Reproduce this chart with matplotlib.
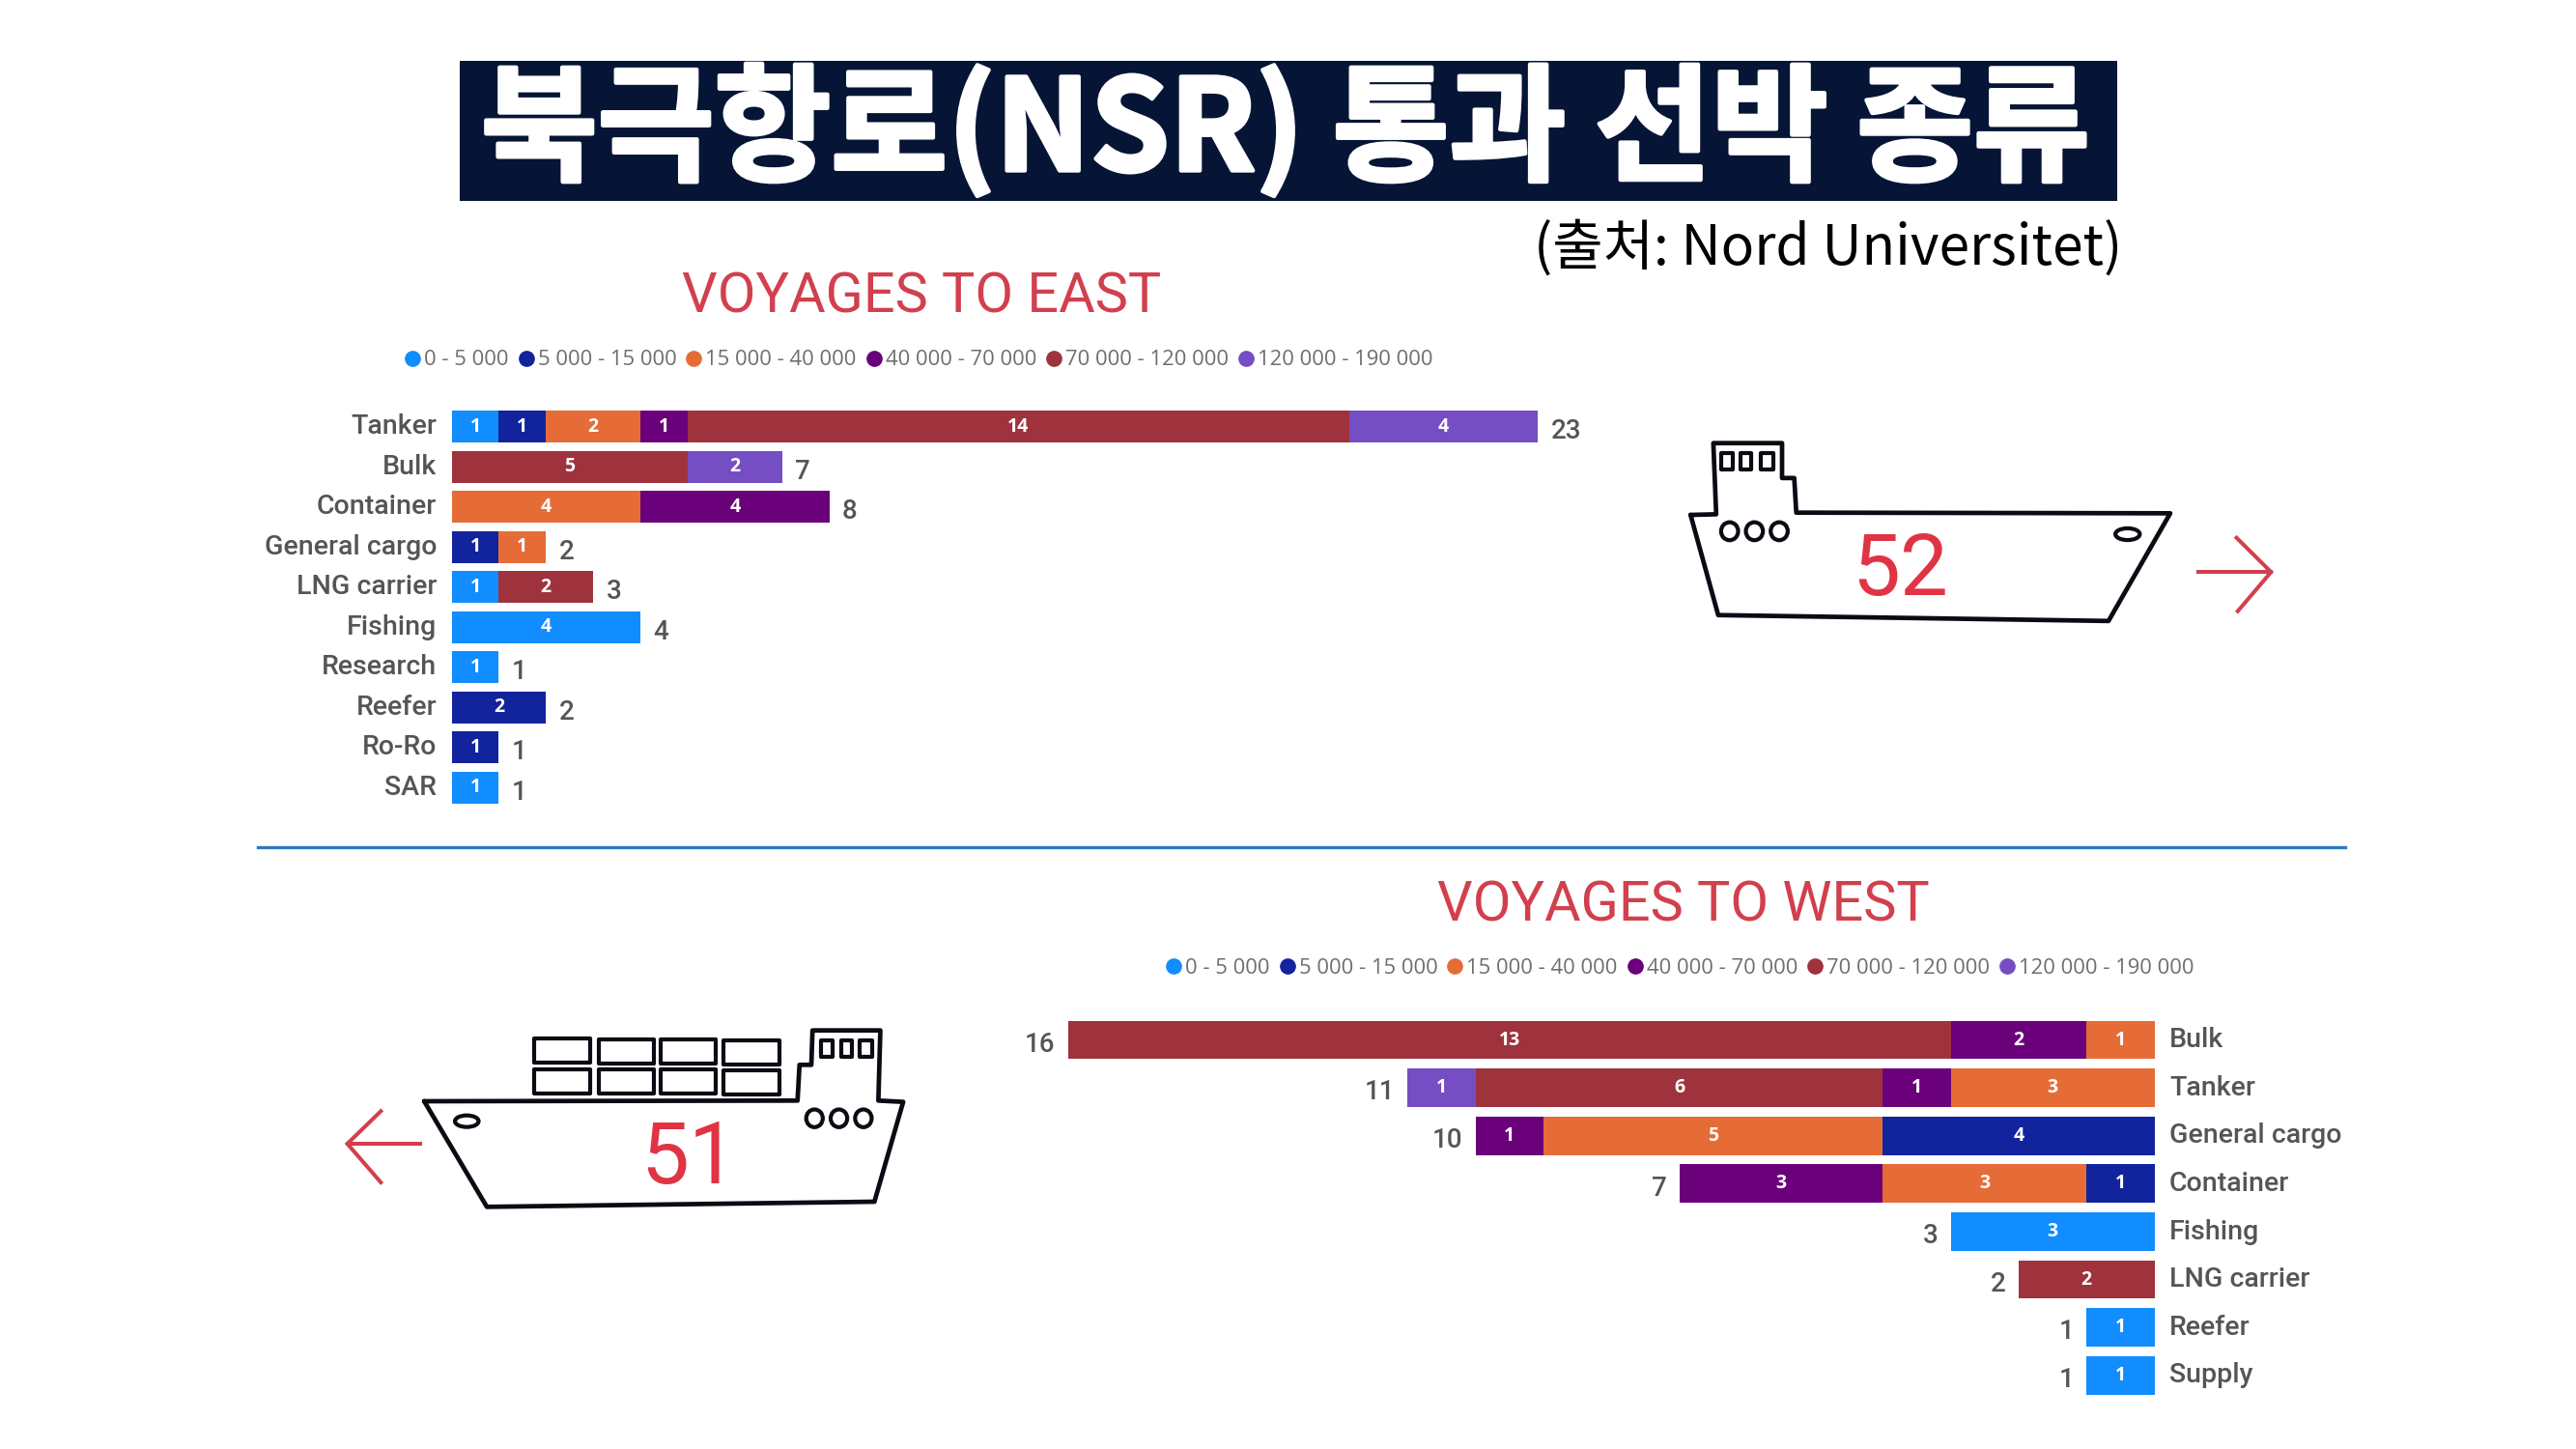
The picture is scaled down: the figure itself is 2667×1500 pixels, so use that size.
"""
Arctic NSR transit ships by type, east and west voyages.
"""

import numpy as np
import matplotlib
matplotlib.use("Agg")
import matplotlib.pyplot as plt
import matplotlib.patheffects as pe
from matplotlib.lines import Line2D
from matplotlib.patches import Ellipse, Rectangle
from matplotlib.transforms import ScaledTranslation

W, H = 2667, 1500

# ---------------------------------------------------------
# DATA
# ---------------------------------------------------------

size_classes = ["0 - 5 000", "5 000 - 15 000", "15 000 - 40 000",
                "40 000 - 70 000", "70 000 - 120 000", "120 000 - 190 000"]
class_colors = ["#118DFF", "#12239E", "#E66C37", "#6B007B", "#9E333D", "#744EC2"]

east_types = ["Tanker", "Bulk", "Container", "General cargo", "LNG carrier",
              "Fishing", "Research", "Reefer", "Ro-Ro", "SAR"]
east_0_5 = [1, 0, 0, 0, 1, 4, 1, 0, 0, 1]
east_5_15 = [1, 0, 0, 1, 0, 0, 0, 2, 1, 0]
east_15_40 = [2, 0, 4, 1, 0, 0, 0, 0, 0, 0]
east_40_70 = [1, 0, 4, 0, 0, 0, 0, 0, 0, 0]
east_70_120 = [14, 5, 0, 0, 2, 0, 0, 0, 0, 0]
east_120_190 = [4, 2, 0, 0, 0, 0, 0, 0, 0, 0]

west_types = ["Bulk", "Tanker", "General cargo", "Container", "Fishing",
              "LNG carrier", "Reefer", "Supply"]
west_0_5 = [0, 0, 0, 0, 3, 0, 1, 1]
west_5_15 = [0, 0, 4, 1, 0, 0, 0, 0]
west_15_40 = [1, 3, 5, 3, 0, 0, 0, 0]
west_40_70 = [2, 1, 1, 3, 0, 0, 0, 0]
west_70_120 = [13, 6, 0, 0, 0, 2, 0, 0]
west_120_190 = [0, 1, 0, 0, 0, 0, 0, 0]

east_total_ships = 52
west_total_ships = 51

# ---------------------------------------------------------
# FONTS / COLOURS
# ---------------------------------------------------------

KR = ["Noto Sans CJK KR", "DejaVu Sans"]
UI = ["Roboto", "DejaVu Sans"]
LEG = ["Open Sans", "DejaVu Sans"]
RED = "#D23F4D"
GREY = "#555555"
LEGEND_GREY = "#6E6E6E"
NAVY = "#061536"
INK = "#0B0B14"


def axes_px(fig, x0, y0, x1, y1):
    """Axes from pixel box, y measured from the top."""
    return fig.add_axes([x0 / W, 1 - y1 / H, (x1 - x0) / W, (y1 - y0) / H])


def stacked_panel(ax, types, series, value_side):
    y = np.arange(len(types))
    series = np.array(series, dtype=float)
    left = np.zeros(len(types))
    handles = []
    for vals, name, color in zip(series, size_classes, class_colors):
        bars = ax.barh(y, vals, left=left, height=0.8, color=color, label=name)
        labels = [f"{int(v)}" if v > 0 else "" for v in vals]
        ax.bar_label(bars, labels=labels, label_type="center", color="white",
                     fontsize=14, fontweight="bold", family=LEG)
        left = left + vals
        handles.append(Line2D([], [], ls="", marker="o", ms=11, color=color, label=name))

    for yi, total in zip(y, left):
        ax.annotate(f"{int(total)}", (total, yi), xytext=(value_side * 9.5, -3.5),
                    textcoords="offset points", va="center",
                    ha="left" if value_side > 0 else "right",
                    fontsize=20, fontweight="medium", color=GREY, family=UI)

    ax.set_yticks(y, types)
    ax.set_ylim(len(types) - 0.5, -0.5)
    ax.set_xticks([])
    if value_side < 0:
        ax.yaxis.tick_right()
    ax.tick_params(axis="y", length=0, labelsize=20.5, labelcolor=GREY, pad=11)
    # labels sit a touch above the bar centre in the original
    nudge = ScaledTranslation(0, 2 / 72, ax.figure.dpi_scale_trans)
    for tick in ax.yaxis.get_major_ticks():
        for lab in (tick.label1, tick.label2):
            lab.set_family(UI)
            lab.set_fontweight("medium")
            lab.set_transform(lab.get_transform() + nudge)
    for s in ax.spines.values():
        s.set_visible(False)
    ax.patch.set_alpha(0)
    return handles


def place_legend(fig, handles, cx, cy):
    fig.legend(handles=handles, loc="center", bbox_to_anchor=(cx / W, 1 - cy / H),
               ncol=6, frameon=False, handletextpad=0.05, columnspacing=0.32,
               handlelength=1.0, labelcolor=LEGEND_GREY,
               prop={"family": LEG, "size": 15.8})


# ---------------------------------------------------------
# SHIP DRAWINGS (crop coords scaled to the page)
# ---------------------------------------------------------

def draw_ship(ov, sx, sy, ox, oy, hull, windows, ports, oval, boxes=()):
    def X(v):
        return ox + np.asarray(v, dtype=float) / sx

    def Y(v):
        return oy + np.asarray(v, dtype=float) / sy

    hx, hy = zip(*hull)
    ov.plot(X(hx), Y(hy), color=INK, lw=3.4, solid_joinstyle="round", solid_capstyle="round")
    for x0, x1, y0, y1 in list(windows) + list(boxes):
        ov.add_patch(Rectangle((X(x0), Y(y0)), (x1 - x0) / sx, (y1 - y0) / sy,
                               fill=False, ec=INK, lw=3.0, joinstyle="round"))
    for px, py in ports:
        ov.add_patch(Ellipse((X(px), Y(py)), 42 / sx, 55 / sy, fill=False, ec=INK, lw=3.0))
    ov.add_patch(Ellipse((X(oval[0]), Y(oval[1])), 60 / sx, 36 / sy, fill=False, ec=INK, lw=3.0))


def draw_arrow(ov, sx, sy, ox, oy, shaft, head):
    for pts in (shaft, head):
        xs, ys = zip(*pts)
        ov.plot(ox + np.array(xs) / sx, oy + np.array(ys) / sy, color=RED, lw=2.9,
                solid_joinstyle="miter")


# ---------------------------------------------------------
# MAIN
# ---------------------------------------------------------

fig = plt.figure(figsize=(W / 100, H / 100), dpi=100, facecolor="white")

# east panel, 48.9 px per ship, 41.5 px per row
ax_e = axes_px(fig, 467.5, 421, 467.5 + 25 * 48.9, 836)
ax_e.set_xlim(0, 25)
h_e = stacked_panel(ax_e, east_types,
                    [east_0_5, east_5_15, east_15_40, east_40_70, east_70_120, east_120_190], 1)
place_legend(fig, h_e, 950, 373)

# west panel, runs right to left, 70.3 px per ship, 49.6 px per row
ax_w = axes_px(fig, 2230.6 - 17 * 70.3, 1051.7, 2230.6, 1448.5)
ax_w.set_xlim(17, 0)
h_w = stacked_panel(ax_w, west_types,
                    [west_0_5, west_5_15, west_15_40, west_40_70, west_70_120, west_120_190], -1)
place_legend(fig, h_w, 1738, 1002)

# page overlay in pixels
ov = fig.add_axes([0, 0, 1, 1])
ov.set_xlim(0, W)
ov.set_ylim(H, 0)
ov.axis("off")
ov.patch.set_alpha(0)

ov.add_patch(Rectangle((476, 63), 1716, 145, color=NAVY, lw=0))
ov.text(1331, 136, "북극항로(NSR) 통과 선박 종류", color="white", ha="center", va="center",
        fontsize=94.5, fontweight="black", family=KR,
        path_effects=[pe.withStroke(linewidth=3.0, foreground="white")])
ov.text(2197, 257, "(출처: Nord Universitet)", color="black", ha="right", va="center",
        fontsize=41, family=KR)

ov.text(954.5, 308, "VOYAGES TO EAST", color=RED, ha="center", va="center",
        fontsize=41.5, family=UI)
ov.text(1743, 938, "VOYAGES TO WEST", color=RED, ha="center", va="center",
        fontsize=41.5, family=UI)

ov.plot([267, 2428], [877, 877], color="#2F78C4", lw=2.4)

# east ship
draw_ship(ov, 2.376, 2.96, 1720, 430,
          hull=[(72, 305), (135, 303), (128, 85), (297, 85), (297, 192), (327, 192),
                (332, 298), (1252, 300), (1100, 630), (140, 612), (72, 305)],
          windows=[(148, 175, 115, 165), (195, 222, 115, 165), (245, 275, 115, 165)],
          ports=[(168, 355), (229, 355), (290, 355)], oval=(1147, 364))
draw_arrow(ov, 2.376, 2.96, 1720, 430, [(1322, 480), (1500, 480)],
           [(1415, 375), (1500, 480), (1418, 600)])
ov.text(1720 + 588 / 2.376, 433 + 468 / 2.96, str(east_total_ships), color="#E03444",
        ha="center", va="center", fontsize=64, family=UI)

# west ship
draw_ship(ov, 2.45, 3.0, 340, 1050,
          hull=[(243, 270), (1190, 268), (1195, 157), (1225, 157), (1228, 50), (1400, 50),
                (1395, 268), (1458, 272), (1385, 582), (402, 598), (243, 270)],
          windows=[(1250, 1278, 82, 132), (1300, 1328, 82, 132), (1348, 1380, 82, 132)],
          ports=[(1233, 323), (1295, 323), (1357, 323)], oval=(351, 332),
          boxes=[(523, 663, 75, 150), (685, 825, 77, 152), (843, 983, 78, 153), (1003, 1143, 82, 157),
                 (523, 663, 170, 245), (685, 825, 172, 247), (843, 983, 172, 247), (1003, 1143, 175, 250)])
draw_arrow(ov, 2.45, 3.0, 340, 1053, [(232, 393), (48, 393)],
           [(133, 292), (48, 393), (133, 513)])
ov.text(344 + 905 / 2.45, 1054 + 440 / 3.0, str(west_total_ships), color="#E03444",
        ha="center", va="center", fontsize=64, family=UI)

plt.savefig("out.png", dpi=100)
plt.close()
